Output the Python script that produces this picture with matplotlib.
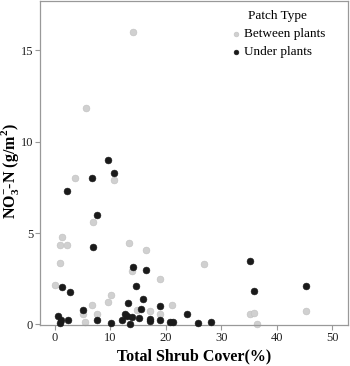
import matplotlib
matplotlib.use("Agg")
import matplotlib.pyplot as plt

# total shrub cover (%) and NO3-N (g/m2)
between_x = [14.1, 5.59, 3.55, 10.63, 6.79, 1.32, 0.84, 2.1, 0.84, 0.06, 10.09, 9.61,
             6.6, 7.63, 5.1, 5.35, 13.33, 16.34, 13.8, 18.86, 26.85, 21.08, 14.7, 17.1,
             18.86, 35.1, 35.86, 45.17, 36.4]
between_y = [16.0, 11.84, 7.99, 7.92, 5.61, 4.77, 4.33, 4.33, 3.37, 2.17, 1.62, 1.22,
             1.04, 0.58, 0.58, 0.13, 4.43, 4.08, 2.91, 2.48, 3.32, 1.04, 0.77, 0.73,
             0.58, 0.56, 0.6, 0.75, 0.04]

under_x = [9.6, 10.63, 6.61, 2.1, 7.62, 6.79, 1.32, 2.64, 5.1, 0.6, 1.08, 2.4, 0.9,
           7.62, 10.09, 12.07, 12.6, 13.2, 13.6, 14.05, 16.34, 14.59, 15.86, 15.55,
           18.86, 23.78, 13.8, 12.9, 15.1, 17.1, 17.1, 18.86, 20.66, 21.2, 25.7,
           28.1, 35.07, 35.86, 45.17]
under_y = [9.02, 8.31, 8.02, 7.32, 5.99, 4.23, 2.04, 1.77, 0.77, 0.44, 0.26, 0.22, 0.07,
           0.22, 0.07, 0.26, 0.58, 1.2, 0.05, 3.15, 2.97, 2.13, 1.42, 0.86,
           1.0, 0.58, 0.4, 0.46, 0.33, 0.31, 0.18, 0.24, 0.13, 0.15, 0.07,
           0.16, 3.48, 1.84, 2.13]

plt.rcParams['font.family'] = ['Liberation Serif', 'DejaVu Serif']
plt.rcParams['mathtext.fontset'] = 'custom'
plt.rcParams['mathtext.rm'] = 'Liberation Serif'
plt.rcParams['mathtext.bf'] = 'Liberation Serif:bold'

fig = plt.figure(figsize=(3.5, 3.66), dpi=100)
ax = fig.add_axes([40/350, 41/366, 308/350, 324/366])

ax.scatter(between_x, between_y, s=24, color='#d0d0d0', edgecolors='#c0c0c0',
           linewidths=0.4, label='Between plants', clip_on=False, zorder=2)
ax.scatter(under_x, under_y, s=24, color='#1a1a1a', edgecolors='#1a1a1a',
           linewidths=0.4, label='Under plants', clip_on=False, zorder=3)

ax.set_xlim(-2.7, 52.8)
ax.set_ylim(-0.03, 17.7)
ax.set_xticks([0, 10, 20, 30, 40, 50])
ax.set_yticks([0, 5, 10, 15])

for sp in ax.spines.values():
    sp.set_color('#999999')
    sp.set_linewidth(0.9)
ax.tick_params(axis='both', colors='#999999', labelcolor='#222222', labelsize=9,
               length=3.5, width=0.8, pad=1.5)

ax.set_xlabel('Total Shrub Cover(%)', fontsize=11.5, fontweight='bold', labelpad=3)
ax.set_ylabel(r'NO$_\mathbf{3}^\mathbf{-}$-N (g/m$^\mathbf{2}$)', fontsize=11.5,
              fontweight='bold')
ax.yaxis.set_label_coords(-0.058, 0.475)

leg = ax.legend(title='Patch Type', loc='upper left', bbox_to_anchor=(0.58, 1.005),
                frameon=False, fontsize=9.5, title_fontsize=9.5, markerscale=0.7,
                handletextpad=0.1, borderpad=0.3, labelspacing=0.45, handlelength=1.0)

fig.savefig('out.png', dpi=100)
